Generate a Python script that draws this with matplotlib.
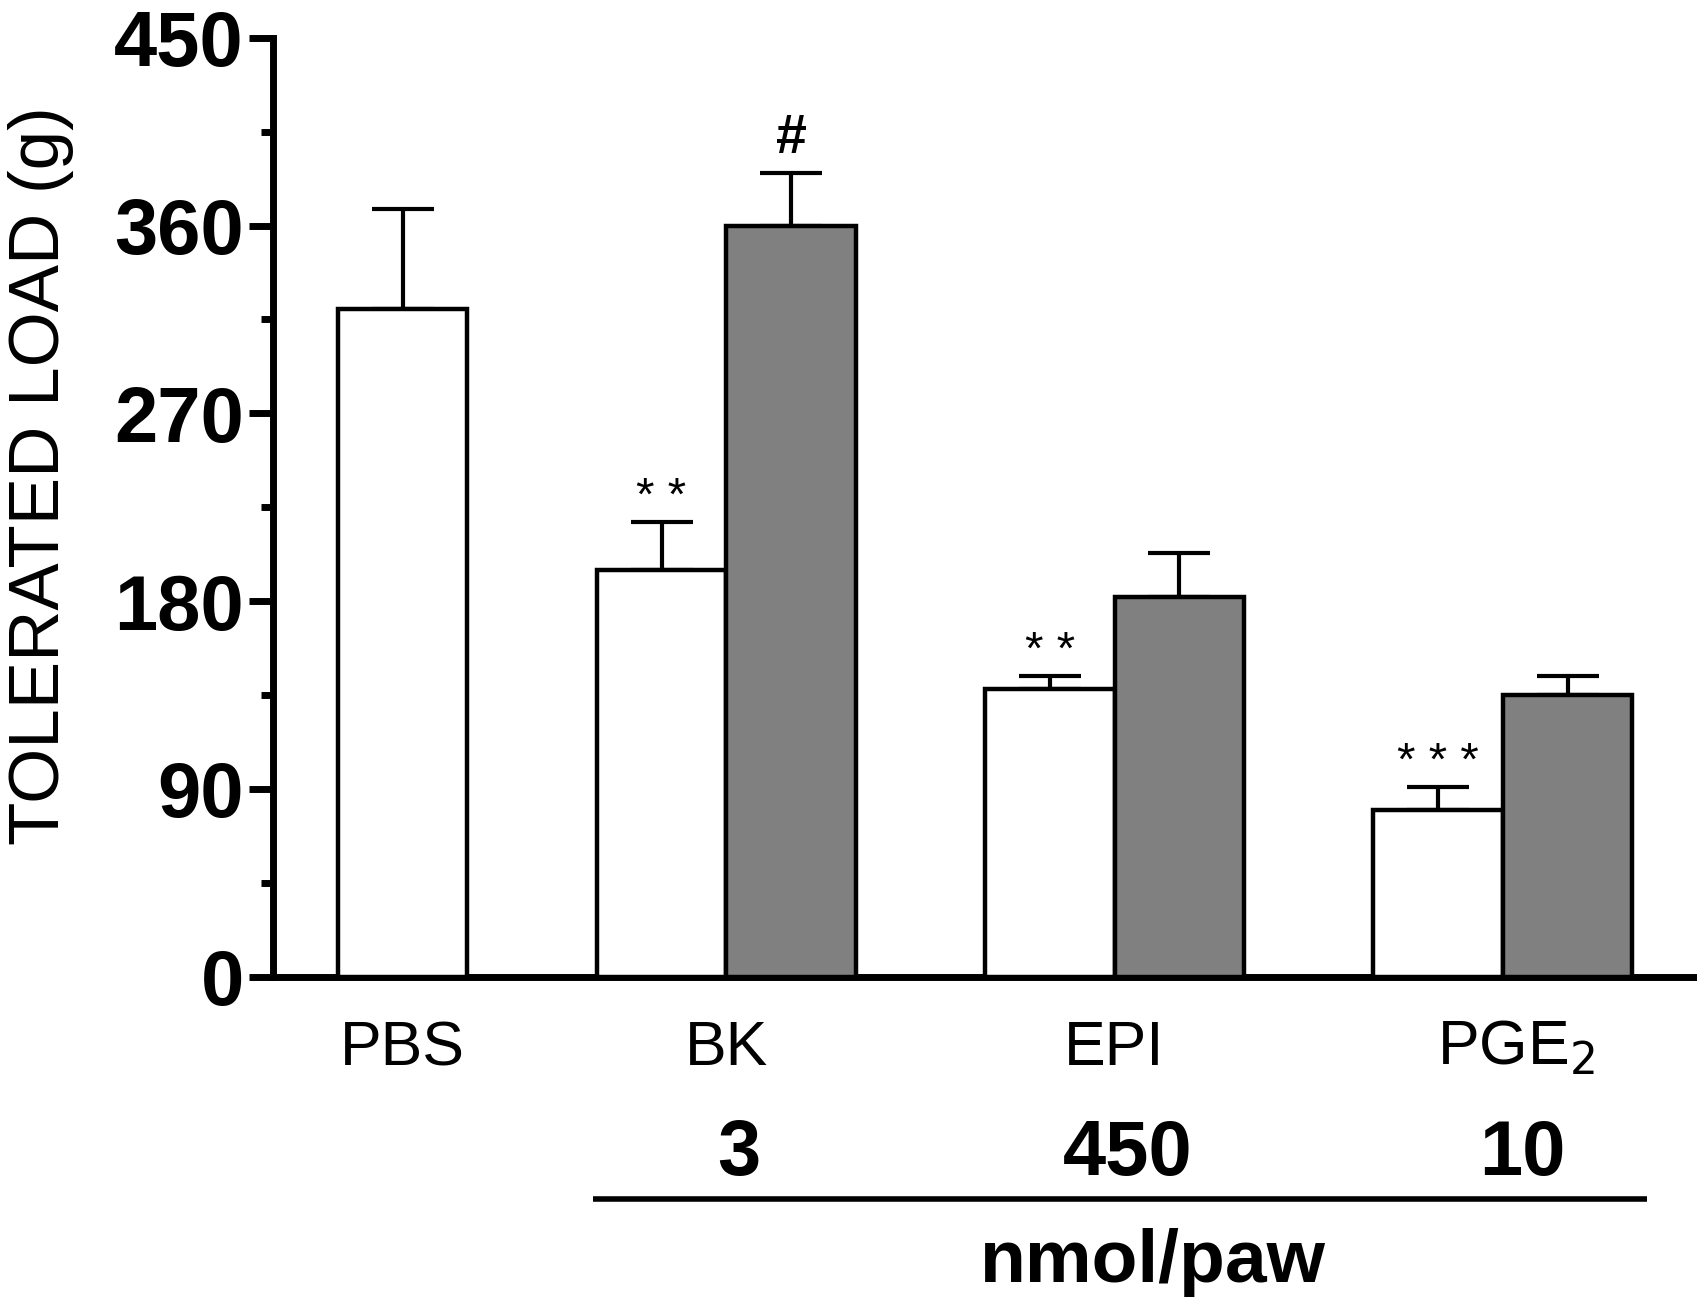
import matplotlib
matplotlib.use("Agg")
import matplotlib.pyplot as plt
from matplotlib.ticker import MultipleLocator
import numpy as np

# ---- data ----
groups = ["PBS", "BK", "EPI", "PGE$_2$"]
doses = ["", "3", "450", "10"]
white_vals = [320, 195, 138, 80]
white_err = [48, 23, 6, 11]
gray_vals = [None, 360, 182, 135]
gray_err = [None, 25, 21, 9]
white_marks = ["", "**", "**", "***"]
gray_marks = ["", "#", "", ""]
yticks = [0, 90, 180, 270, 360, 450]
ylabel = "TOLERATED LOAD (g)"
unit_label = "nmol/paw"

plt.rcParams['font.family'] = ['Liberation Sans', 'DejaVu Sans']

fig = plt.figure(figsize=(16.97, 13.02), dpi=100)
ax = fig.add_axes([0.161, 0.250, 0.839, 0.721])

white_x = [1, 3, 6, 9]
gray_x = [4, 7, 10]
gv = [v for v in gray_vals if v is not None]
ge = [e for e in gray_err if e is not None]

lw = 3.2
ax.bar(white_x, white_vals, width=1.0, color="white", edgecolor="black", linewidth=lw, zorder=3)
ax.bar(gray_x, gv, width=1.0, color="#808080", edgecolor="black", linewidth=lw, zorder=3)
ax.errorbar(white_x, white_vals, yerr=[np.zeros(len(white_err)), white_err], fmt="none",
            ecolor="black", elinewidth=3, capsize=22, capthick=3, zorder=2)
ax.errorbar(gray_x, gv, yerr=[np.zeros(len(ge)), ge], fmt="none",
            ecolor="black", elinewidth=3, capsize=22, capthick=3, zorder=2)

# significance marks
for x, v, e, m in zip(white_x, white_vals, white_err, white_marks):
    if m:
        ax.text(x, v + e + 1, " ".join(m), ha="center", va="bottom", fontsize=34, color="black")
for x, v, e, m in zip(gray_x, gv, ge, gray_marks[1:]):
    if m:
        ax.text(x, v + e + 4, m, ha="center", va="bottom", fontsize=40, fontweight="bold", color="black")

ax.set_xlim(0, 11.0)
ax.set_ylim(0, 450)
ax.set_yticks(yticks)
ax.set_yticklabels([str(t) for t in yticks], fontsize=56, fontweight="bold")
ax.yaxis.set_minor_locator(MultipleLocator(45))
ax.tick_params(axis="y", which="major", length=17, width=5, pad=4)
ax.tick_params(axis="y", which="minor", length=9, width=5)
ax.set_xticks([])
for s in ["top", "right"]:
    ax.spines[s].set_visible(False)
ax.spines["left"].set_linewidth(5)
ax.spines["bottom"].set_linewidth(5)
ax.spines["left"].set_bounds(0, 450)

# category labels under axis
cat_x = [1, 3.5, 6.5, 9.6]
trans = ax.get_xaxis_transform()
for x, g in zip(cat_x, groups):
    ax.text(x, -0.077, g, transform=trans, ha="center", va="center", fontsize=45, clip_on=False)
dose_x = [None, 3.6, 6.6, 9.65]
for x, d in zip(dose_x, doses):
    if d:
        ax.text(x, -0.19, d, transform=trans, ha="center", va="center", fontsize=56,
                fontweight="bold", clip_on=False)
ax.plot([2.47, 10.61], [-0.237, -0.237], transform=trans, color="black", lw=4, clip_on=False,
        solid_capstyle="butt")
ax.text(6.8, -0.305, unit_label, transform=trans, ha="center", va="center", fontsize=54,
        fontweight="bold", clip_on=False)

fig.text(0.024, 0.635, ylabel, rotation=90, ha="center", va="center", fontsize=51)

fig.savefig("out.png", dpi=100, facecolor="white")
